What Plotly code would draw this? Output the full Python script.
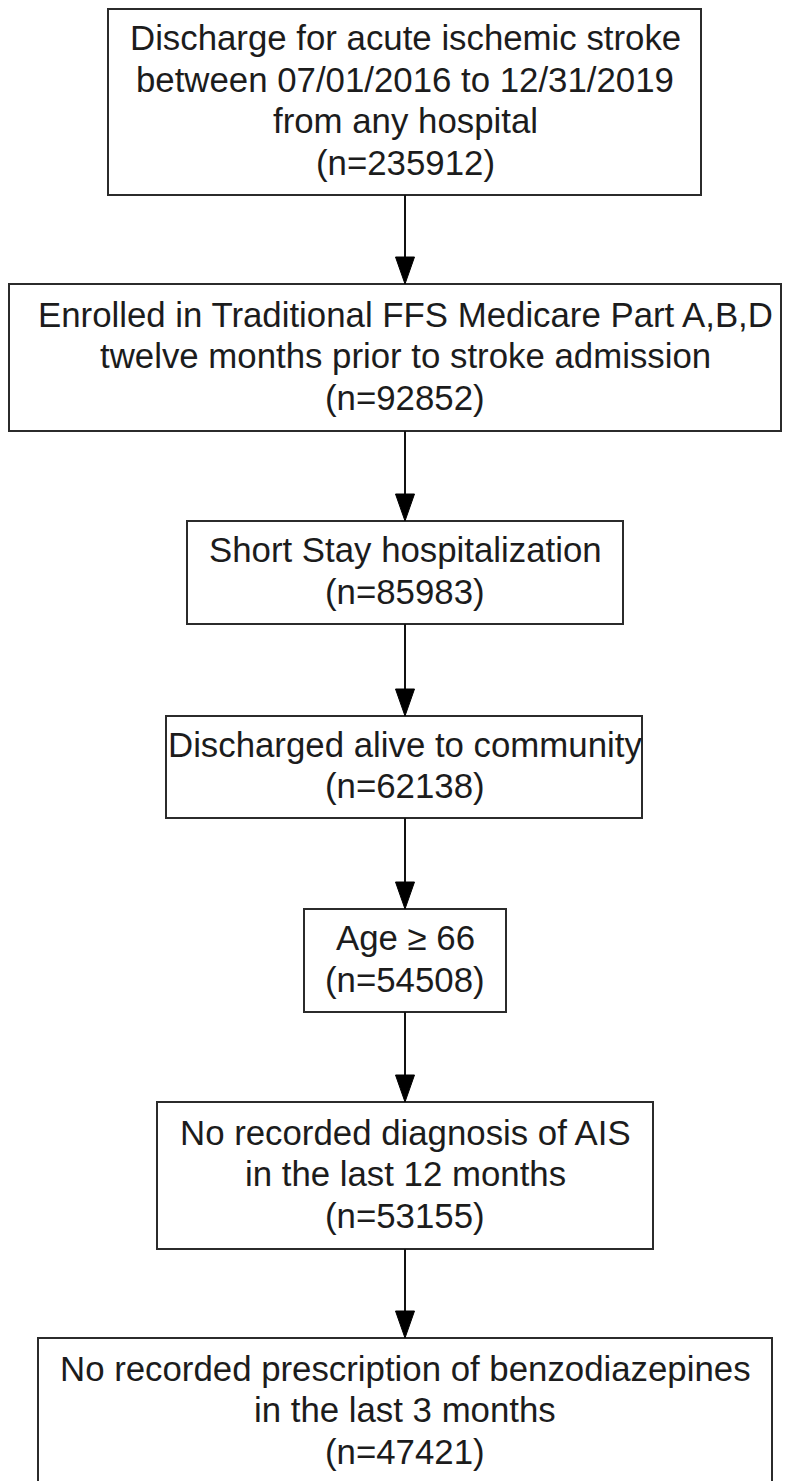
import plotly.graph_objects as go

# ---- data ----
step_labels = [
    ["Discharge for acute ischemic stroke", "between 07/01/2016 to 12/31/2019", "from any hospital"],
    ["Enrolled in Traditional FFS Medicare Part A,B,D", "twelve months prior to stroke admission"],
    ["Short Stay hospitalization"],
    ["Discharged alive to community"],
    ["Age \u2265 66"],
    ["No recorded diagnosis of AIS", "in the last 12 months"],
    ["No recorded prescription of benzodiazepines", "in the last 3 months"],
]
step_counts = [235912, 92852, 85983, 62138, 54508, 53155, 47421]

# ---- layout (pixel geometry, page coordinates) ----
W, H = 790, 1481
PAGE_OFF = 8  # default body margin of the html page
box_x = [(108, 701), (9, 781), (187, 623), (166, 642), (304, 506), (157, 653), (38, 772)]
box_y = [(9, 195), (284, 431), (521, 624), (716, 818), (909, 1012), (1102, 1249), (1338, 1485)]
center_x = 405
line_pitch = 41.5
font_size = 34.8
head_w, head_h = 19, 27

fig = go.Figure()
shapes = []
annotations = []

for i, (lines, n) in enumerate(zip(step_labels, step_counts)):
    x0, x1 = box_x[i]
    y0, y1 = box_y[i]
    shapes.append(dict(type="rect", xref="x", yref="y", x0=x0, x1=x1, y0=y0, y1=y1,
                       line=dict(color="#2b2b2b", width=2), fillcolor="white", layer="below"))
    all_lines = lines + [f"(n={n})"]
    k = len(all_lines)
    cy = (y0 + y1) / 2
    for j, t in enumerate(all_lines):
        yy = cy + (j - (k - 1) / 2) * line_pitch - 2
        annotations.append(dict(x=center_x, y=yy, xref="x", yref="y", text=t, showarrow=False,
                                xanchor="center", yanchor="middle",
                                font=dict(family="Liberation Sans, Arial, sans-serif",
                                          size=font_size, color="#1c1c1c")))

for i in range(len(step_labels) - 1):
    ys = box_y[i][1]
    ye = box_y[i + 1][0]
    shapes.append(dict(type="line", xref="x", yref="y", x0=center_x, x1=center_x, y0=ys, y1=ye - head_h + 2,
                       line=dict(color="#111111", width=2)))
    shapes.append(dict(type="path", xref="x", yref="y",
                       path=f"M {center_x - head_w/2} {ye - head_h} L {center_x + head_w/2} {ye - head_h} L {center_x} {ye} Z",
                       fillcolor="#000000", line=dict(color="#000000", width=1)))

FIG_W = W - PAGE_OFF
FIG_H = H - PAGE_OFF
fig.update_layout(
    width=FIG_W, height=FIG_H,
    margin=dict(l=0, r=0, t=0, b=0),
    paper_bgcolor="white", plot_bgcolor="white",
    xaxis=dict(range=[PAGE_OFF, PAGE_OFF + FIG_W], visible=False, fixedrange=True),
    yaxis=dict(range=[PAGE_OFF + FIG_H, PAGE_OFF], visible=False, fixedrange=True),
    shapes=shapes, annotations=annotations, showlegend=False,
)

fig.write_html("out.html")
